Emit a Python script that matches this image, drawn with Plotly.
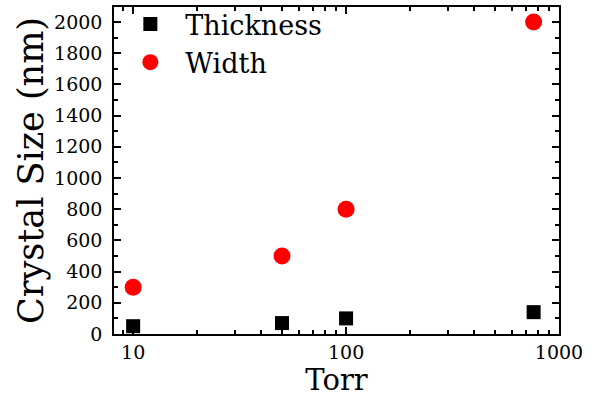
import plotly.graph_objects as go

pressure_torr = [10, 50, 100, 760]
thickness_nm = [50, 70, 100, 140]
width_nm = [300, 500, 800, 2000]

FONT = "DejaVu Serif"

fig = go.Figure()
fig.add_trace(go.Scatter(x=pressure_torr, y=thickness_nm, mode="markers", name="Thickness",
                         marker=dict(symbol="square", size=14, color="black")))
fig.add_trace(go.Scatter(x=pressure_torr, y=width_nm, mode="markers", name="Width",
                         marker=dict(symbol="circle", size=17, color="#ff0000")))

axis_common = dict(showline=True, linecolor="black", linewidth=1.5, mirror="ticks",
                   ticks="inside", ticklen=7, tickwidth=1.5, tickcolor="black",
                   showgrid=False, zeroline=False,
                   tickfont=dict(family=FONT, size=19, color="black"))

fig.update_xaxes(type="log", range=[0.91, 3.0], dtick=1,
                 tickvals=[10, 100, 1000], ticktext=["10", "100", "1000"],
                 minor=dict(ticks="inside", ticklen=4, tickwidth=1.5, tickcolor="black", dtick="D1"),
                 title=dict(text="Torr", font=dict(family=FONT, size=29, color="black"), standoff=6),
                 **axis_common)
fig.update_yaxes(range=[0, 2096], dtick=200, ticklabelstandoff=6,
                 minor=dict(ticks="inside", ticklen=4, tickwidth=1.5, tickcolor="black", dtick=100),
                 title=dict(text="Crystal Size (nm)", font=dict(family=FONT, size=35, color="black"), standoff=0),
                 **axis_common)

fig.update_layout(
    width=594, height=398,
    margin=dict(l=114, r=35, t=7, b=64, autoexpand=False),
    plot_bgcolor="white", paper_bgcolor="white",
    font=dict(family=FONT, color="black"),
    legend=dict(x=0.003, y=1.0, xanchor="left", yanchor="top", yref="container",
                bgcolor="rgba(0,0,0,0)", font=dict(family=FONT, size=27, color="black"),
                itemsizing="trace", itemwidth=60, tracegroupgap=0),
)

fig.write_html("out.html", config={"displayModeBar": False},
               post_script="document.body.style.margin='0';")
